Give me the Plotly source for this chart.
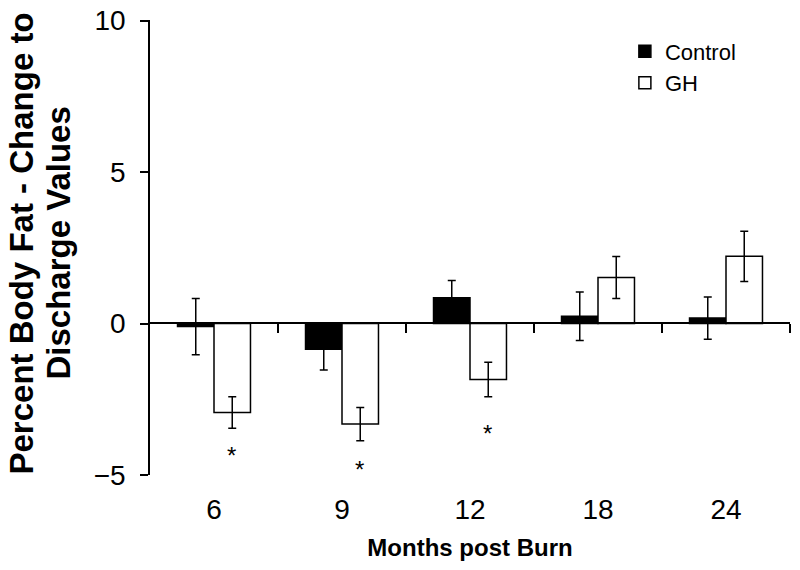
import plotly.graph_objects as go

months = ["6", "9", "12", "18", "24"]
control = [-0.1, -0.85, 0.85, 0.24, 0.18]
control_err = [0.93, 0.68, 0.57, 0.8, 0.7]
gh = [-2.94, -3.32, -1.85, 1.52, 2.22]
gh_err = [0.52, 0.55, 0.57, 0.69, 0.83]
sig_y = [-4.37, -4.83, -3.62, None, None]
ytitle_lines = ["Percent Body Fat - Change to", "Discharge Values"]

pos = list(range(len(months)))
bargap = 0.43
bar_w = (1 - bargap) / 2

fig = go.Figure()
fig.add_trace(go.Bar(
    x=pos, y=control, name="Control",
    marker=dict(color="black", line=dict(color="black", width=1.5)),
    error_y=dict(type="data", array=control_err, color="black", thickness=1.5, width=4),
))
fig.add_trace(go.Bar(
    x=pos, y=gh, name="GH",
    marker=dict(color="white", line=dict(color="black", width=1.5)),
    error_y=dict(type="data", array=gh_err, color="black", thickness=1.5, width=4),
))
# invisible helper so the zero-line axis (x2) gets drawn
fig.add_trace(go.Scatter(x=[None], y=[None], xaxis="x2", yaxis="y",
                         showlegend=False, hoverinfo="skip", mode="markers"))

font = "Liberation Sans, Arial, sans-serif"
for i, s in enumerate(sig_y):
    if s is not None:
        fig.add_annotation(x=pos[i] + bar_w / 2 - 0.008, y=s, text="*", showarrow=False,
                           font=dict(size=24, color="black", family=font),
                           xref="x", yref="y")

# y-axis title as two rotated lines
for k, (line, xpx) in enumerate(zip(ytitle_lines, [-129, -92])):
    fig.add_annotation(x=0, y=0.5, xref="paper", yref="paper", xshift=xpx, yshift=4,
                       text=f"<b>{line}</b>", textangle=-90, showarrow=False,
                       xanchor="center", yanchor="middle",
                       font=dict(size=33, family=font, color="black"))

fig.update_layout(
    width=800, height=570,
    margin=dict(l=142, r=18, t=12, b=103, autoexpand=False),
    paper_bgcolor="white", plot_bgcolor="white",
    barmode="group", bargap=bargap, bargroupgap=0,
    font=dict(family=font, color="black"),
    showlegend=True,
    legend=dict(x=0.742, y=0.977, xanchor="left", yanchor="top",
                font=dict(size=22, family=font, color="black"),
                bgcolor="rgba(0,0,0,0)", itemwidth=30),
    xaxis=dict(
        range=[-0.5, 4.5], tickvals=pos, ticktext=months, automargin=False,
        showline=False, ticks="", showgrid=False, zeroline=False,
        tickfont=dict(size=28, family=font, color="black"),
        ticklabelstandoff=15,
        title=dict(text="<b>Months post Burn</b>", font=dict(size=24, family=font, color="black"), standoff=15),
    ),
    xaxis2=dict(
        range=[-0.5, 4.5], overlaying="x", anchor="free", position=1/3, side="bottom",
        showline=True, linecolor="black", linewidth=1.5, automargin=False,
        ticks="outside", ticklen=9, tickwidth=1.5, tickcolor="black",
        tickvals=[p + 0.5 for p in pos], showticklabels=False,
        showgrid=False, zeroline=False,
    ),
    yaxis=dict(
        range=[-5, 10.02], tickvals=[-5, 0, 5, 10], automargin=False,
        showline=True, linecolor="black", linewidth=1.5,
        ticks="outside", ticklen=8, tickwidth=1.5, tickcolor="black",
        showgrid=False, zeroline=False,
        tickfont=dict(size=28, family=font, color="black"),
        ticklabelstandoff=9, ticklabeloverflow="allow",
    ),
)

fig.write_html("out.html")
